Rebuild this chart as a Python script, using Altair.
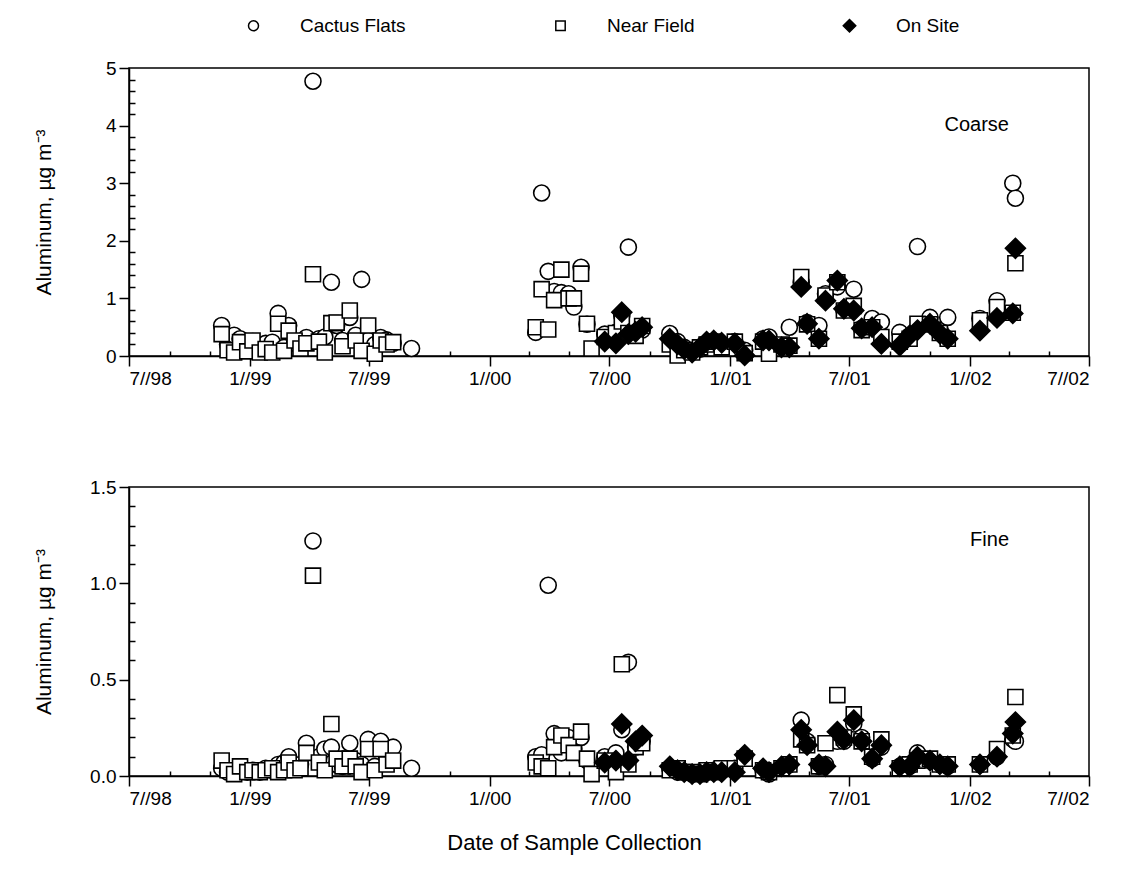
import altair as alt
import pandas as pd

FONT = "Liberation Sans"
sites = ["Cactus Flats", "Near Field", "On Site"]

# ---- sampling dates ----
dates = [
    "1998-11-19", "1998-11-28", "1998-12-08", "1998-12-17", "1998-12-28",
    "1999-01-05", "1999-01-16", "1999-01-25", "1999-02-04", "1999-02-13",
    "1999-02-22", "1999-03-01", "1999-03-10", "1999-03-19", "1999-03-28",
    "1999-04-07", "1999-04-16", "1999-04-25", "1999-05-05", "1999-05-13",
    "1999-05-22", "1999-06-02", "1999-06-11", "1999-06-20", "1999-06-30",
    "1999-07-10", "1999-07-19", "1999-07-28", "1999-08-07", "1999-09-04",
    "2000-03-11", "2000-03-20", "2000-03-30", "2000-04-08", "2000-04-19",
    "2000-04-30", "2000-05-08", "2000-05-19", "2000-05-28", "2000-06-04",
    "2000-06-24", "2000-07-11", "2000-07-20", "2000-07-30", "2000-08-10",
    "2000-08-20", "2000-10-01", "2000-10-13", "2000-10-23", "2000-11-04",
    "2000-11-16", "2000-11-26", "2000-12-07", "2000-12-19", "2001-01-08",
    "2001-01-23", "2001-02-20", "2001-03-01", "2001-03-20", "2001-04-01",
    "2001-04-19", "2001-04-28", "2001-05-16", "2001-05-26", "2001-06-13",
    "2001-06-23", "2001-07-08", "2001-07-20", "2001-08-05", "2001-08-19",
    "2001-09-16", "2001-10-01", "2001-10-13", "2001-11-01", "2001-11-16",
    "2001-11-28", "2002-01-16", "2002-02-11", "2002-03-07", "2002-03-11",
]

# ---- coarse fraction, ug/m3 ----
cf_coarse = [
    0.53, 0.20, 0.36, 0.30, 0.15, 0.25, 0.10, 0.22, 0.24, 0.74,
    0.15, 0.53, 0.22, 0.20, 0.32, 4.77, 0.30, 0.33, 1.28, 0.53,
    0.27, 0.67, 0.36, 1.33, 0.27, 0.20, 0.32, 0.28, 0.22, 0.13,
    0.41, 2.83, 1.47, 1.12, 1.10, 1.08, 0.85, 1.54, 0.55, None,
    0.38, 0.41, 0.70, 1.89, 0.40, 0.45, 0.39, 0.25, 0.15, 0.10,
    0.12, 0.22, 0.25, 0.20, 0.25, 0.10, 0.30, 0.33, 0.18, 0.50,
    1.28, 0.58, 0.53, 1.08, 1.20, 0.80, 1.16, 0.48, 0.65, 0.59,
    0.41, 0.35, 1.90, 0.67, 0.45, 0.67, 0.65, 0.96, 3.00, 2.74,
]
nf_coarse = [
    0.38, 0.10, 0.06, 0.24, 0.08, 0.27, 0.06, 0.12, 0.06, 0.56,
    0.09, 0.44, 0.27, 0.13, 0.22, 1.42, 0.25, 0.06, 0.57, 0.58,
    0.17, 0.79, 0.27, 0.09, 0.53, 0.04, 0.27, 0.20, 0.24, None,
    0.50, 1.16, 0.46, 0.97, 1.50, 1.00, 1.00, 1.43, 0.56, 0.13,
    0.33, 0.40, 0.60, 0.40, 0.35, 0.52, 0.20, 0.01, 0.10, 0.06,
    0.15, 0.20, 0.25, 0.15, 0.25, 0.05, 0.25, 0.04, 0.20, 0.18,
    1.37, 0.55, 0.30, 1.05, 1.28, 0.79, 0.87, 0.45, 0.50, 0.33,
    0.25, 0.30, 0.56, 0.55, 0.40, 0.30, 0.62, 0.85, 0.75, 1.61,
]
os_coarse = [None] * 40 + [
    0.25, 0.22, 0.76, 0.38, 0.42, 0.50, 0.30, 0.20, 0.12, 0.06,
    0.15, 0.25, 0.27, 0.23, 0.22, 0.01, 0.27, 0.27, 0.15, 0.15,
    1.20, 0.56, 0.30, 0.96, 1.31, 0.82, 0.79, 0.48, 0.50, 0.21,
    0.18, 0.36, 0.45, 0.56, 0.39, 0.30, 0.44, 0.66, 0.74, 1.87,
]

# ---- fine fraction, ug/m3 ----
cf_fine = [
    0.04, 0.02, 0.03, 0.03, 0.02, 0.03, 0.02, 0.04, 0.03, 0.06,
    0.07, 0.10, 0.05, 0.06, 0.17, 1.22, 0.10, 0.14, 0.15, 0.06,
    0.05, 0.17, 0.08, 0.06, 0.19, 0.05, 0.18, 0.10, 0.15, 0.04,
    0.10, 0.11, 0.99, 0.22, 0.12, 0.20, 0.14, 0.20, 0.08, None,
    0.10, 0.12, 0.24, 0.59, 0.15, 0.18, 0.04, 0.02, 0.02, 0.01,
    0.02, 0.02, 0.03, 0.03, 0.04, 0.10, 0.03, 0.01, 0.04, 0.06,
    0.29, 0.18, 0.05, 0.06, 0.18, 0.18, 0.27, 0.20, 0.09, 0.15,
    0.05, 0.05, 0.12, 0.08, 0.06, 0.05, 0.06, 0.10, 0.19, 0.18,
]
nf_fine = [
    0.08, 0.03, 0.01, 0.05, 0.02, 0.03, 0.02, 0.03, 0.04, 0.02,
    0.03, 0.07, 0.03, 0.04, 0.12, 1.04, 0.07, 0.03, 0.27, 0.09,
    0.05, 0.09, 0.05, 0.02, 0.14, 0.03, 0.14, 0.06, 0.08, None,
    0.07, 0.05, 0.04, 0.15, 0.21, 0.16, 0.12, 0.23, 0.09, 0.01,
    0.08, 0.02, 0.58, 0.06, 0.15, 0.17, 0.03, 0.04, 0.02, 0.02,
    0.01, 0.03, 0.02, 0.04, 0.04, 0.09, 0.03, 0.02, 0.04, 0.06,
    0.19, 0.16, 0.05, 0.17, 0.42, 0.20, 0.32, 0.18, 0.10, 0.19,
    0.04, 0.06, 0.08, 0.09, 0.06, 0.06, 0.06, 0.14, 0.21, 0.41,
]
os_fine = [None] * 40 + [
    0.07, 0.08, 0.27, 0.08, 0.18, 0.21, 0.05, 0.03, 0.02, 0.01,
    0.01, 0.02, 0.02, 0.02, 0.02, 0.11, 0.04, 0.02, 0.05, 0.06,
    0.24, 0.16, 0.06, 0.05, 0.23, 0.19, 0.29, 0.18, 0.09, 0.16,
    0.05, 0.05, 0.10, 0.08, 0.06, 0.05, 0.06, 0.10, 0.22, 0.28,
]

# ---- axis ticks ----
x_tick_dates = ["1998-07-01", "1999-01-01", "1999-07-01", "2000-01-01", "2000-07-01",
                "2001-01-01", "2001-07-01", "2002-01-01", "2002-07-01"]
x_tick_labels = ["7//98", "1//99", "7//99", "1//00", "7//00", "1//01", "7//01", "1//02", "7//02"]
x_minor_dates = ["1998-09-01", "1998-11-01", "1999-03-01", "1999-05-01", "1999-09-01",
                 "1999-11-01", "2000-03-01", "2000-05-01", "2000-09-01", "2000-11-01",
                 "2001-03-01", "2001-05-01", "2001-09-01", "2001-11-01", "2002-03-01",
                 "2002-05-01"]
coarse_ticks = [0, 1, 2, 3, 4, 5]
coarse_minor = [0.2, 0.4, 0.6, 0.8, 1.2, 1.4, 1.6, 1.8, 2.2, 2.4, 2.6, 2.8,
                3.2, 3.4, 3.6, 3.8, 4.2, 4.4, 4.6, 4.8]
fine_ticks = [0.0, 0.5, 1.0, 1.5]
fine_minor = [0.1, 0.2, 0.3, 0.4, 0.6, 0.7, 0.8, 0.9, 1.1, 1.2, 1.3, 1.4]

# ---- long table ----
rows = []
for panel_name, series in [("coarse", [cf_coarse, nf_coarse, os_coarse]),
                           ("fine", [cf_fine, nf_fine, os_fine])]:
    for site, vals in zip(sites, series):
        for d, v in zip(dates, vals):
            if v is not None:
                rows.append({"panel": panel_name, "site": site, "date": d, "value": v})
df = pd.DataFrame(rows)


def ms(d):
    return int(pd.Timestamp(d, tz="UTC").value // 10**6)


major_ms = [ms(d) for d in x_tick_dates]
minor_ms = [ms(d) for d in x_minor_dates]
label_expr = "''"
for m, lab in reversed(list(zip(major_ms, x_tick_labels))):
    label_expr = f"time(datum.value) == {m} ? '{lab}' : ({label_expr})"

x_domain = [major_ms[0], major_ms[-1]]
shape_scale = alt.Scale(domain=sites, range=[
    "circle", "M-0.94,-0.94H0.94V0.94H-0.94Z", "M0,-1.25L1.25,0L0,1.25L-1.25,0Z"])
fill_scale = alt.Scale(domain=sites, range=["white", "white", "black"])
stroke_scale = alt.Scale(domain=sites, range=["black", "black", "black"])

legend = alt.Legend(
    title=None, orient="none", direction="horizontal", legendX=115, legendY=-52,
    labelFont=FONT, labelFontSize=19, labelColor="black", labelOffset=37,
    columnPadding=145, symbolSize=100, symbolStrokeColor="black",
    symbolStrokeWidth=1.5,
)


def panel(panel_name, ymax, yticks, yminor, yfmt, label, label_y, height, show_xtitle):
    data = df[df.panel == panel_name]
    xscale = alt.Scale(type="utc", domain=x_domain)
    yscale = alt.Scale(domain=[0, ymax], nice=False, zero=True)
    pts = alt.Chart(data).mark_point(
        filled=True, strokeWidth=1.6, size=256, opacity=1
    ).encode(
        x=alt.X("date:T", scale=xscale, axis=alt.Axis(
            values=major_ms, labelExpr=label_expr, tickSize=10, labelPadding=3,
            title="Date of Sample Collection" if show_xtitle else None,
            titleFontSize=22, titlePadding=24, titleX=445, titleFontWeight="normal")),
        y=alt.Y("value:Q", scale=yscale, axis=alt.Axis(
            values=yticks, format=yfmt, tickSize=10, labelPadding=3,
            title="Aluminum, µg m⁻³", titleFontSize=21, titleFontWeight="normal",
            titleX=-85, titleY=height / 2, titleAlign="center", titleBaseline="middle")),
        shape=alt.Shape("site:N", scale=shape_scale, legend=legend),
        fill=alt.Fill("site:N", scale=fill_scale, legend=legend),
        stroke=alt.Stroke("site:N", scale=stroke_scale, legend=legend),
    )
    minor = alt.Chart(data).mark_point(opacity=0).encode(
        x=alt.X("date:T", scale=xscale, axis=alt.Axis(
            values=minor_ms, labels=False, domain=False, tickSize=5, offset=-5,
            orient="bottom", title=None)),
        y=alt.Y("value:Q", scale=yscale, axis=alt.Axis(
            values=yminor, labels=False, domain=False, tickSize=6, offset=-6,
            orient="left", title=None)),
    )
    txt = alt.Chart(pd.DataFrame({"t": [label]})).mark_text(
        align="right", baseline="middle", font=FONT, fontSize=20, color="black"
    ).encode(x=alt.value(880), y=alt.value(label_y), text="t:N")
    return alt.layer(pts, minor, txt).resolve_axis(
        x="independent", y="independent").properties(width=960, height=height)


top = panel("coarse", 5, coarse_ticks, coarse_minor, "d", "Coarse", 57, 288, False)
bottom = panel("fine", 1.5, fine_ticks, fine_minor, ".1f", "Fine", 53, 289, True)

chart = alt.vconcat(top, bottom, spacing=88).properties(
    padding={"left": 32, "top": 16, "right": 5, "bottom": 5},
    background="white",
).configure_view(stroke="black", strokeWidth=1.5).configure_axis(
    labelFont=FONT, titleFont=FONT, labelFontSize=19, labelColor="black",
    titleColor="black", tickColor="black", tickWidth=1.5, domainColor="black",
    domainWidth=1.5, grid=False,
)

chart.save("out.html", embed_options={"renderer": "svg", "actions": False})
